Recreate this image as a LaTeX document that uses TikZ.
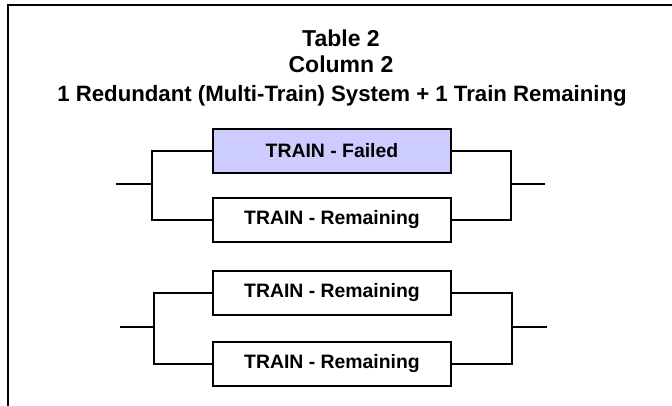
\documentclass[tikz,border=0pt]{standalone}
\usepackage{fontspec}
\setmainfont{Liberation Sans}
\definecolor{failfill}{RGB}{204,204,255}
\begin{document}
\begin{tikzpicture}[x=1pt,y=-1pt,
  trainbox/.style={draw=black,line width=2pt,fill=white,minimum width=238pt,minimum height=44pt,inner sep=0pt,
    font=\fontsize{19.4}{22}\selectfont\bfseries},
  failbox/.style={trainbox,fill=failfill},
  wire/.style={line width=2pt,line cap=rect},
  titletext/.style={anchor=base,inner sep=0pt,font=\fontsize{23}{26}\selectfont\bfseries},
  subtext/.style={anchor=base,inner sep=0pt,font=\fontsize{22.2}{25}\selectfont\bfseries}]
\useasboundingbox (0,0) rectangle (672,406);
% outer frame (left and top edges)
\draw[line width=2.5pt] (8,406) -- (8,5) -- (672,5);
% heading
\node[titletext] (t1) at (341,47) {Table 2};
\node[titletext] (t2) at (341,73) {Column 2};
\node[subtext] (t3) at (342,102) {1 Redundant (Multi-Train) System + 1 Train Remaining};
% first parallel pair
\node[failbox] (b1) at (332,151) {TRAIN - Failed};
\node[trainbox] (b2) at (332,220) {TRAIN - Remaining};
\coordinate (j1) at (152,184);
\coordinate (in1) at (117,184);
\coordinate (j2) at (511,184);
\coordinate (out1) at (544,184);
\draw[wire] (b1.west) -| (j1) |- (b2.west);
\draw[wire] (in1) -- (j1);
\draw[wire] (b1.east) -| (j2) |- (b2.east);
\draw[wire] (j2) -- (out1);
% second parallel pair
\node[trainbox] (b3) at (332,292.5) {TRAIN - Remaining};
\node[trainbox] (b4) at (332,363.5) {TRAIN - Remaining};
\coordinate (j3) at (154,327);
\coordinate (in2) at (121,327);
\coordinate (j4) at (512,327);
\coordinate (out2) at (546,327);
\draw[wire] (b3.west) -| (j3) |- (b4.west);
\draw[wire] (in2) -- (j3);
\draw[wire] (b3.east) -| (j4) |- (b4.east);
\draw[wire] (j4) -- (out2);
\end{tikzpicture}
\end{document}
